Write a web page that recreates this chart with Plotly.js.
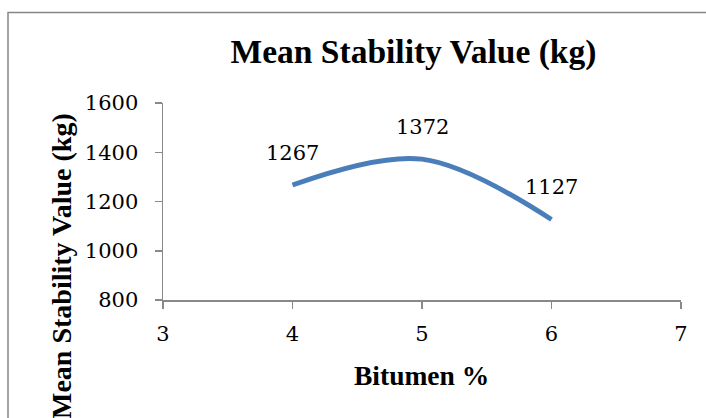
<!DOCTYPE html>
<html>
<head>
<meta charset="utf-8">
<script src="https://cdn.plot.ly/plotly-3.0.1.min.js"></script>
<style>html,body{margin:0;padding:0;background:#fff;}#chart{width:706px;height:418px;}</style>
</head>
<body>
<div id="chart"></div>
<script>
const bitumen = [4, 5, 6];
const stability = [1267, 1372, 1127];
const xTicks = [3, 4, 5, 6, 7];
const yTicks = [800, 1000, 1200, 1400, 1600];

const SERIF = '"Liberation Serif", "DejaVu Serif", serif';
const NUMF = '"DejaVu Serif", "Liberation Serif", serif';
const L = 163, R = 25, T = 103, B = 118, W = 706, H = 418;
const pw = W - L - R, ph = H - T - B;
const px = v => (v - L) / pw;
const py = v => (H - B - v) / ph;

const trace = {
  x: bitumen, y: stability, type: 'scatter', mode: 'lines',
  line: {color: '#4A7EBB', width: 5, shape: 'spline', smoothing: 1},
  hoverinfo: 'skip'
};

const annotations = bitumen.map((b, i) => ({
  x: b, y: stability[i], xref: 'x', yref: 'y', text: String(stability[i]),
  showarrow: false, yshift: 32.5, xshift: 0,
  font: {family: NUMF, size: 21, color: '#000'}
}));
annotations.push({
  x: px(421.5), y: py(375), xref: 'paper', yref: 'paper', text: '<b>Bitumen %</b>',
  showarrow: false, xanchor: 'center', yanchor: 'middle',
  font: {family: SERIF, size: 27.5, color: '#000'}
});
annotations.push({
  x: px(61), y: py(111), xref: 'paper', yref: 'paper', text: '<b>Mean Stability Value (kg)</b>',
  textangle: -90, showarrow: false, xanchor: 'center', yanchor: 'top',
  font: {family: SERIF, size: 28, color: '#000'}
});

const axisCommon = {
  showgrid: false, zeroline: false, showline: true, linecolor: '#898989', linewidth: 1.5,
  ticks: 'outside', ticklen: 7, tickwidth: 1.5, tickcolor: '#898989',
  tickfont: {family: NUMF, size: 21, color: '#000'}, fixedrange: true
};

const layout = {
  width: W, height: H,
  margin: {l: L, r: R, t: T, b: B, pad: 0},
  paper_bgcolor: '#fff', plot_bgcolor: '#fff',
  showlegend: false,
  title: {text: '<b>Mean Stability Value (kg)</b>', x: 413.5 / W, xanchor: 'center', xref: 'container',
          y: 1 - 51 / H, yanchor: 'middle', yref: 'container',
          font: {family: SERIF, size: 33.5, color: '#000'}},
  xaxis: Object.assign({range: [3, 7], tickvals: xTicks, ticktext: xTicks.map(String), ticklabelstandoff: 7}, axisCommon),
  yaxis: Object.assign({range: [800, 1600], tickvals: yTicks, ticktext: yTicks.map(String), ticklabelstandoff: 12}, axisCommon),
  shapes: [{type: 'rect', xref: 'paper', yref: 'paper',
            x0: px(8), x1: px(720), y0: py(430), y1: py(12.5),
            line: {color: '#868686', width: 1.5}, fillcolor: 'rgba(0,0,0,0)', layer: 'below'}],
  annotations: annotations
};

Plotly.newPlot('chart', [trace], layout, {displayModeBar: false, staticPlot: true});
</script>
</body>
</html>
